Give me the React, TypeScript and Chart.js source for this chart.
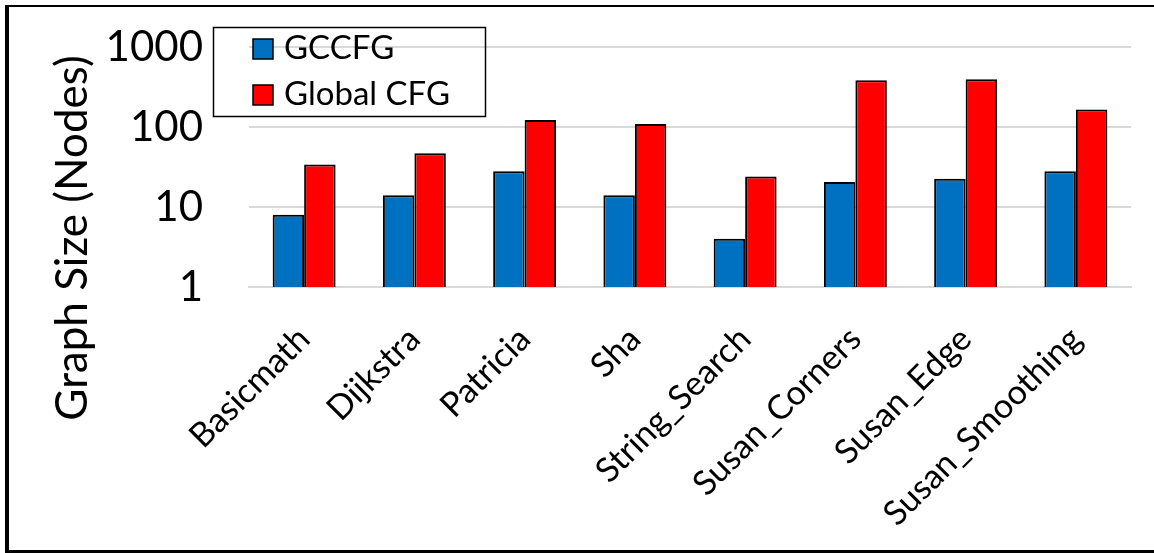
import React, { useEffect, useRef } from "react";
import { Chart, registerables } from "chart.js";

Chart.register(...registerables);

const categories = [
  "Basicmath",
  "Dijkstra",
  "Patricia",
  "Sha",
  "String_Search",
  "Susan_Corners",
  "Susan_Edge",
  "Susan_Smoothing",
];
const gccfgValues = [8, 14, 28, 14, 4, 20.5, 22.5, 28];
const globalCfgValues = [34, 47, 122, 109, 24, 383, 394, 166];
const yTickValues = [1, 10, 100, 1000];
const seriesNames = ["GCCFG", "Global CFG"];
const yTitle = "Graph Size (Nodes)";

const BLUE = "#0070C0";
const RED = "#FF0000";
const FONT = "Lato, 'Noto Sans', sans-serif";

const yTitlePlugin = {
  id: "yTitlePlugin",
  afterDraw(chart: any) {
    const ctx = chart.ctx;
    ctx.save();
    ctx.translate(87, 238);
    ctx.rotate(-Math.PI / 2);
    ctx.font = `44px ${FONT}`;
    ctx.fillStyle = "#000";
    ctx.textAlign = "center";
    ctx.textBaseline = "alphabetic";
    ctx.fillText(yTitle, 0, 0);
    ctx.restore();
  },
};

const boxLegendPlugin = {
  id: "boxLegendPlugin",
  afterDraw(chart: any) {
    const ctx = chart.ctx;
    ctx.save();
    ctx.strokeStyle = "#000";
    ctx.lineWidth = 1.5;
    ctx.strokeRect(213.5, 27.5, 272, 89);
    const ds = chart.data.datasets;
    const rows = [39, 85];
    ds.forEach((d: any, i: number) => {
      const y = rows[i];
      ctx.fillStyle = d.backgroundColor;
      ctx.fillRect(253, y, 20, 20);
      ctx.lineWidth = 1.5;
      ctx.strokeStyle = "#000";
      ctx.strokeRect(253, y, 20, 20);
      ctx.fillStyle = "#000";
      ctx.font = `33px ${FONT}`;
      ctx.textAlign = "left";
      ctx.textBaseline = "alphabetic";
      ctx.fillText(d.label, 284, y + 20);
    });
    ctx.restore();
  },
};

export default function App() {
  const canvasRef = useRef<HTMLCanvasElement | null>(null);

  useEffect(() => {
    if (!canvasRef.current) return;
    const chart = new Chart(canvasRef.current, {
      type: "bar",
      data: {
        labels: categories,
        datasets: [
          {
            label: seriesNames[0],
            data: gccfgValues,
            backgroundColor: BLUE,
            borderColor: "#000",
            borderWidth: 2,
            categoryPercentage: 0.571,
            barPercentage: 1,
          },
          {
            label: seriesNames[1],
            data: globalCfgValues,
            backgroundColor: RED,
            borderColor: "#000",
            borderWidth: 2,
            categoryPercentage: 0.571,
            barPercentage: 1,
          },
        ],
      },
      options: {
        responsive: false,
        animation: false,
        devicePixelRatio: 1,
        layout: { padding: { top: 47, right: 23, bottom: 0, left: 0 } },
        plugins: {
          legend: { display: false },
          tooltip: { enabled: false },
          title: { display: false },
        },
        scales: {
          x: {
            grid: { display: false },
            border: { display: true, color: "#d9d9d9", width: 2 },
            ticks: {
              autoSkip: false,
              minRotation: 45,
              maxRotation: 45,
              padding: 24,
              color: "#000",
              font: { family: FONT, size: 34 },
            },
            afterFit(scale: any) {
              scale.height = 266;
            },
          },
          y: {
            type: "logarithmic",
            min: 1,
            max: 1000,
            border: { display: false },
            grid: {
              color: "#d9d9d9",
              lineWidth: 2,
              drawTicks: true,
              tickLength: 46,
              tickColor: "rgba(0,0,0,0)",
            },
            ticks: {
              padding: 0,
              color: "#000",
              font: { family: FONT, size: 42 },
              callback: (v: any) => String(v),
            },
            afterBuildTicks(scale: any) {
              scale.ticks = yTickValues.map((v) => ({ value: v }));
            },
            afterFit(scale: any) {
              scale.width = 249;
            },
          },
        },
      },
      plugins: [yTitlePlugin, boxLegendPlugin],
    });
    return () => chart.destroy();
  }, []);

  return (
    <div style={{ position: "fixed", left: 0, top: 0, width: 1154, height: 553, background: "#fff", overflow: "hidden" }}>
      <canvas ref={canvasRef} width={1154} height={553} style={{ position: "absolute", left: 0, top: 0 }} />
      <div
        style={{
          position: "absolute",
          left: 5,
          top: 5,
          width: 1200,
          height: 543,
          borderLeft: "4px solid #000",
          borderTop: "2px solid #000",
          borderBottom: "3px solid #000",
          pointerEvents: "none",
        }}
      />
    </div>
  );
}
